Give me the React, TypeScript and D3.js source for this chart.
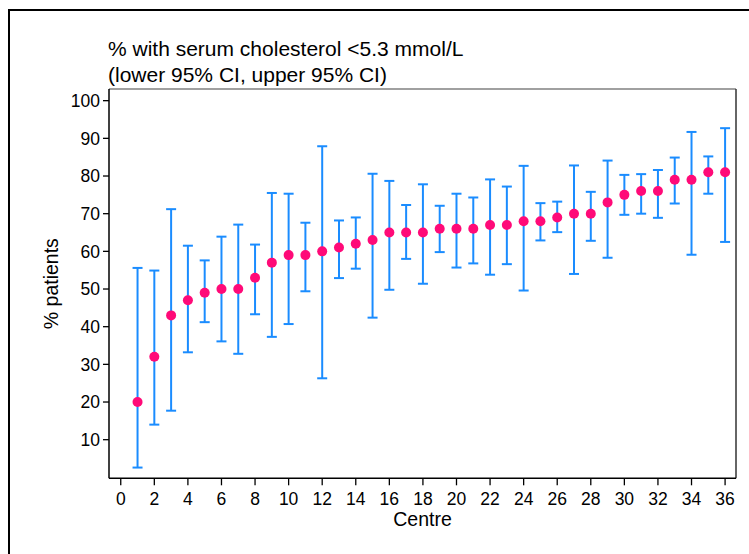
import React from "react";
import * as d3 from "d3";

const centres = Array.from({ length: 36 }, (_, i) => i + 1);
const percent = [20, 32, 43, 47, 49, 50, 50, 53, 57, 59, 59, 60, 61, 62, 63, 65, 65, 65, 66, 66, 66, 67, 67, 68, 68, 69, 70, 70, 73, 75, 76, 76, 79, 79, 81, 81];
const lower95 = [2.6, 14.0, 17.7, 33.2, 41.2, 36.1, 32.8, 43.3, 37.3, 40.7, 49.4, 26.3, 52.9, 55.4, 42.4, 49.8, 58.0, 51.4, 59.8, 55.7, 56.8, 53.8, 56.6, 49.6, 62.9, 65.1, 54.0, 62.8, 58.3, 69.7, 70.0, 68.9, 72.7, 59.1, 75.3, 62.5];
const upper95 = [55.6, 54.9, 71.2, 61.5, 57.6, 63.9, 67.1, 61.8, 75.5, 75.3, 67.6, 87.9, 68.2, 69.0, 80.6, 78.7, 72.3, 77.8, 72.1, 75.3, 74.3, 79.1, 77.2, 82.7, 72.8, 73.2, 82.8, 75.8, 84.1, 80.3, 80.5, 81.6, 84.9, 91.7, 85.2, 92.7];
const xTicks = d3.range(0, 37, 2);
const yTicks = d3.range(10, 101, 10);
const titleLines = ["% with serum cholesterol <5.3 mmol/L", "(lower 95% CI, upper 95% CI)"];

const W = 749, H = 554;
const L = 109, R = 736, T = 89, B = 478.3;
const FONT = "'Liberation Sans', Arial, Helvetica, sans-serif";
const BLUE = "#1a8cff";
const PINK = "#ff0a78";

export default function App() {
  const x = d3.scaleLinear().domain([-0.7, 36.65]).range([L, R]);
  const y = d3.scaleLinear().domain([-0.25, 103.1]).range([B, T]);
  const cap = 5;
  return (
    <svg width={W} height={H} style={{ position: "absolute", left: 0, top: 0, background: "#fff" }} fontFamily={FONT}>
      <rect x={0} y={0} width={W} height={H} fill="#fff" />
      {/* outer frame */}
      <rect x={9} y={10} width={W + 10} height={H + 10} fill="none" stroke="#000" strokeWidth={2} />
      {/* title */}
      {titleLines.map((t, i) => (
        <text key={i} x={108} y={56 + i * 25.5} fontSize={21} fill="#000">{t}</text>
      ))}
      {/* plot region border */}
      <line x1={L} x2={R} y1={T} y2={T} stroke="#808080" strokeWidth={1.5} />
      <line x1={R} x2={R} y1={T} y2={B} stroke="#333" strokeWidth={1.5} />
      {/* axes */}
      <line x1={L} x2={L} y1={T} y2={B} stroke="#000" strokeWidth={1.5} />
      <line x1={L} x2={R} y1={B} y2={B} stroke="#000" strokeWidth={1.5} />
      {yTicks.map(v => (
        <g key={v}>
          <line x1={L - 6} x2={L} y1={y(v)} y2={y(v)} stroke="#000" strokeWidth={1.3} />
          <text x={L - 9} y={y(v)} dy="0.36em" textAnchor="end" fontSize={17.5} fill="#000">{v}</text>
        </g>
      ))}
      {xTicks.map(v => (
        <g key={v}>
          <line x1={x(v)} x2={x(v)} y1={B} y2={B + 7} stroke="#000" strokeWidth={1.3} />
          <text x={x(v)} y={B + 27} textAnchor="middle" fontSize={17.5} fill="#000">{v}</text>
        </g>
      ))}
      <text x={(L + R) / 2} y={526} textAnchor="middle" fontSize={19.5} fill="#000">Centre</text>
      <text transform={`translate(58,${(T + B) / 2}) rotate(-90)`} textAnchor="middle" fontSize={19.5} fill="#000">% patients</text>
      {/* error bars */}
      {centres.map((c, i) => (
        <g key={"e" + c} stroke={BLUE} strokeWidth={2}>
          <line x1={x(c)} x2={x(c)} y1={y(lower95[i])} y2={y(upper95[i])} />
          <line x1={x(c) - cap} x2={x(c) + cap} y1={y(lower95[i])} y2={y(lower95[i])} />
          <line x1={x(c) - cap} x2={x(c) + cap} y1={y(upper95[i])} y2={y(upper95[i])} />
        </g>
      ))}
      {centres.map((c, i) => (
        <circle key={"p" + c} cx={x(c)} cy={y(percent[i])} r={5} fill={PINK} />
      ))}
    </svg>
  );
}
